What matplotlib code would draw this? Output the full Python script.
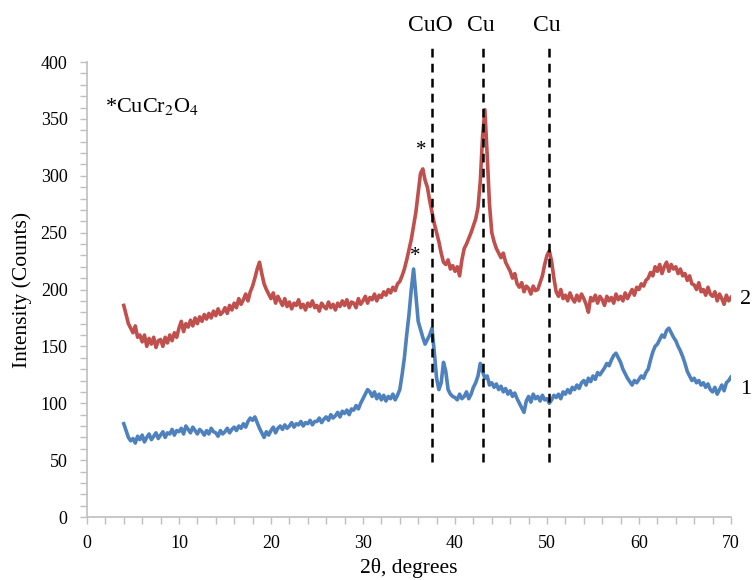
import numpy as np
import matplotlib
matplotlib.use("Agg")
import matplotlib.pyplot as plt
from matplotlib.ticker import MultipleLocator

plt.rcParams["font.family"] = ["Liberation Serif", "DejaVu Serif"]

# 2theta grid, 0.25 deg step from 4 to 70
two_theta = np.arange(4.0, 70.001, 0.25)

# curve 2 (upper, red), one row per degree
counts_2 = [
    186, 178, 170, 166,  162, 168, 158, 160,  154, 160, 150, 157,
    152, 158, 149, 155,  156, 150, 158, 153,  160, 155, 162, 158,
    166, 172, 163, 170,  167, 173, 168, 175,  170, 176, 172, 178,
    174, 179, 175, 181,  177, 183, 178, 180,  184, 179, 186, 182,
    188, 184, 192, 187,  191, 196, 190, 198,  203, 210, 218, 224,
    214, 205, 200, 196,  192, 197, 188, 194,  190, 186, 192, 185,
    189, 183, 188, 186,  191, 184, 187, 182,  188, 185, 190, 184,
    186, 181, 188, 185,  183, 189, 184, 187,  182, 188, 185, 190,
    186, 191, 184, 189,  188, 184, 192, 187,  190, 194, 188, 193,
    191, 196, 190, 195,  193, 198, 195, 200,  197, 202, 199, 205,
    207, 212, 218, 226,  235, 244, 256, 268,  285, 302, 306, 296,
    290, 278, 268, 258,  250, 242, 232, 224,  222, 226, 218, 221,
    216, 220, 212, 226,  236, 240, 245, 250,  256, 262, 272, 295,
    335, 358, 318, 275,  250, 242, 236, 232,  228, 232, 224, 220,
    216, 210, 214, 205,  202, 206, 198, 203,  201, 196, 203, 199,
    200, 206, 212, 222,  230, 234, 225, 210,  198, 194, 200, 192,
    195, 190, 197, 192,  189, 195, 190, 196,  192, 187, 180, 193,
    190, 195, 188, 194,  191, 186, 194, 190,  193, 188, 196, 191,
    194, 190, 197, 192,  196, 200, 195, 202,  200, 205, 203, 208,
    210, 215, 212, 220,  216, 222, 214, 220,  224, 216, 222, 218,
    220, 214, 218, 212,  214, 208, 212, 205,  204, 200, 206, 198,
    200, 195, 202, 196,  194, 198, 190, 196,  192, 187, 195, 190,
    193,
]

# curve 1 (lower, blue)
counts_1 = [
    82, 76, 70, 67,  69, 65, 71, 68,  72, 66, 70, 73,
    68, 71, 74, 69,  72, 75, 70, 74,  73, 77, 72, 76,
    75, 78, 73, 80,  77, 74, 79, 76,  73, 77, 75, 72,
    76, 73, 78, 75,  74, 71, 76, 73,  75, 78, 74, 77,
    79, 76, 80, 78,  82, 79, 84, 87,  85, 88, 83, 78,
    74, 70, 75, 72,  76, 79, 74, 78,  80, 77, 81, 78,
    80, 83, 79, 82,  81, 84, 80, 83,  82, 85, 81, 84,
    84, 87, 83, 86,  88, 85, 90, 87,  89, 92, 88, 93,
    91, 94, 90, 95,  94, 98, 95, 100,  104, 108, 112, 110,
    106, 110, 104, 108,  103, 107, 102, 106,  104, 108, 103, 107,
    112, 125, 140, 160,  178, 200, 218, 195,  172, 165, 158, 152,
    156, 160, 166, 145,  122, 112, 118, 136,  128, 112, 108, 106,
    105, 103, 108, 104,  106, 110, 104, 108,  114, 118, 124, 135,
    128, 122, 124, 116,  118, 114, 117, 112,  115, 110, 113, 108,
    111, 106, 109, 104,  100, 96, 92, 102,  106, 101, 108, 104,
    106, 102, 107, 103,  104, 100, 103, 107,  105, 108, 104, 110,
    108, 112, 109, 114,  112, 116, 113, 118,  120, 116, 122, 119,
    124, 121, 127, 125,  128, 131, 135, 133,  138, 142, 144, 140,
    136, 130, 126, 122,  119, 116, 120, 118,  121, 124, 122, 127,
    130, 138, 145, 150,  152, 156, 160, 158,  164, 166, 162, 158,
    155, 150, 146, 141,  135, 128, 124, 120,  122, 118, 120, 116,
    118, 114, 117, 112,  110, 114, 108, 112,  116, 111, 118, 120,
    123,
]

ref_positions = [37.5, 43.0, 50.2]
ref_labels = ["CuO", "Cu", "Cu"]

fig = plt.figure(figsize=(7.55, 5.8), dpi=100)
ax = fig.add_axes([0.1152, 0.1086, 0.853, 0.7845])

ax.plot(two_theta, counts_2, color="#C0504D", lw=2.6)
ax.plot(two_theta, counts_1, color="#4F81BD", lw=2.6)

for xp, lab in zip(ref_positions, ref_labels):
    ax.plot([xp, xp], [48, 416], color="black", lw=1.8,
            ls=(0, (3.5, 2.5)), clip_on=False)
    ax.text(xp - 0.2, 432, lab, ha="center", va="center", fontsize=17)

ax.text(71.0, 191, "2", ha="left", va="center", fontsize=16)
ax.text(71.0, 112, "1", ha="left", va="center", fontsize=16)
ax.text(36.3, 322, "*", ha="center", va="center", fontsize=15)
ax.text(35.7, 229, "*", ha="center", va="center", fontsize=15)
ax.text(2.0, 361, "*CuCr$_2$O$_4$", ha="left", va="center", fontsize=16,
        math_fontfamily="stix")

ax.set_xlim(0, 70)
ax.set_ylim(0, 400)
ax.xaxis.set_major_locator(MultipleLocator(10))
ax.xaxis.set_minor_locator(MultipleLocator(2))
ax.yaxis.set_major_locator(MultipleLocator(50))
ax.yaxis.set_minor_locator(MultipleLocator(10))

for side in ["top", "right"]:
    ax.spines[side].set_visible(False)
for side in ["left", "bottom"]:
    ax.spines[side].set_color("#BFBFBF")
    ax.spines[side].set_linewidth(1.2)
ax.tick_params(which="both", direction="out", color="#BFBFBF", length=5,
               width=1, labelsize=13)
ax.tick_params(axis="y", pad=9)
ax.tick_params(axis="x", pad=8)

ax.set_xlabel("2θ, degrees", fontsize=15.5, labelpad=4)
ax.set_ylabel("Intensity (Counts)", fontsize=15.5, labelpad=6)

fig.savefig("out.png", dpi=100)
